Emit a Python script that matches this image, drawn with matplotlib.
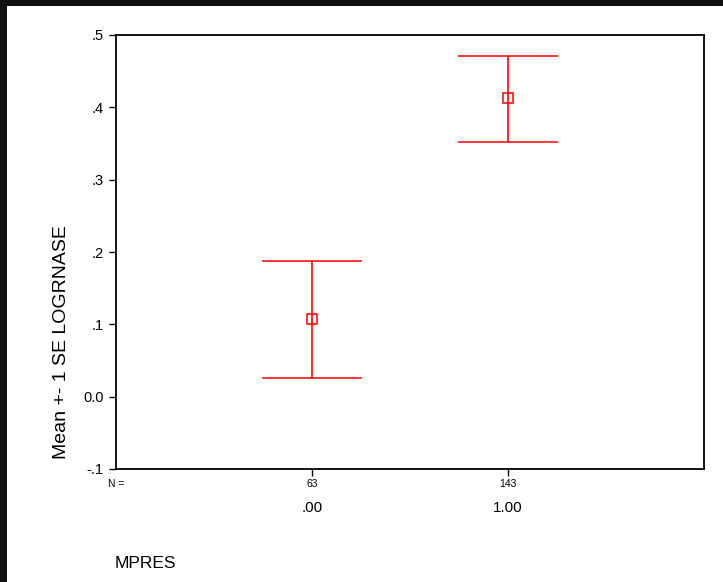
import matplotlib.pyplot as plt
from matplotlib.patches import Rectangle
from matplotlib.ticker import FixedLocator

plt.rcParams["font.family"] = ["Liberation Sans", "DejaVu Sans"]

groups = [".00", "1.00"]
counts = [63, 143]
means = [0.108, 0.413]
upper = [0.188, 0.471]
lower = [0.026, 0.352]
y_ticks = [-0.1, 0.0, 0.1, 0.2, 0.3, 0.4, 0.5]
y_labels = ["-.1", "0.0", ".1", ".2", ".3", ".4", ".5"]

W, H = 723, 582
fig = plt.figure(figsize=(W / 100, H / 100), dpi=100)
fig.patch.set_facecolor("white")

# dark frame along the top and left edge
fig.add_artist(Rectangle((0, 1 - 6 / H), 1, 6 / H, transform=fig.transFigure,
                         facecolor="#111111", edgecolor="none", zorder=0))
fig.add_artist(Rectangle((0, 0), 7 / W, 1, transform=fig.transFigure,
                         facecolor="#111111", edgecolor="none", zorder=0))

left, right, top, bottom = 116, 704, 35, 469
ax = fig.add_axes([left / W, 1 - bottom / H, (right - left) / W, (bottom - top) / H])

xpos = [1, 2]
for x, m, lo, hi in zip(xpos, means, lower, upper):
    ax.errorbar(x, m, yerr=[[m - lo], [hi - m]], fmt="s", color="#ff0000",
                markerfacecolor="none", markeredgecolor="#ff0000", markersize=7,
                markeredgewidth=1.1, elinewidth=1.2, capsize=36, capthick=1.3)

ax.set_xlim(0, 3)
ax.set_ylim(-0.1, 0.5)
ax.yaxis.set_major_locator(FixedLocator(y_ticks))
ax.set_yticklabels(y_labels, fontsize=10.5)
ax.set_xticks(xpos)
ax.set_xticklabels([""] * len(xpos))
ax.tick_params(axis="both", direction="out", length=5, width=1, color="black", pad=4)

for s in ax.spines.values():
    s.set_linewidth(1.3)
    s.set_color("black")

# N row and group labels below the axis
trans = ax.get_xaxis_transform()
ax.text(0, -15 / 434, "N =", transform=trans, ha="center", va="center", fontsize=7.5)
for x, n, g in zip(xpos, counts, groups):
    ax.text(x, -15 / 434, str(n), transform=trans, ha="center", va="center", fontsize=7.5)
    ax.text(x, -39 / 434, g, transform=trans, ha="center", va="center", fontsize=11)

fig.text(115 / W, 1 - 563 / H, "MPRES", ha="left", va="center", fontsize=12.5)
fig.text(62 / W, 1 - 342 / H, "Mean +- 1 SE LOGRNASE", rotation=90,
         ha="center", va="center", fontsize=14)

fig.savefig("out.png", dpi=100, facecolor="white")
